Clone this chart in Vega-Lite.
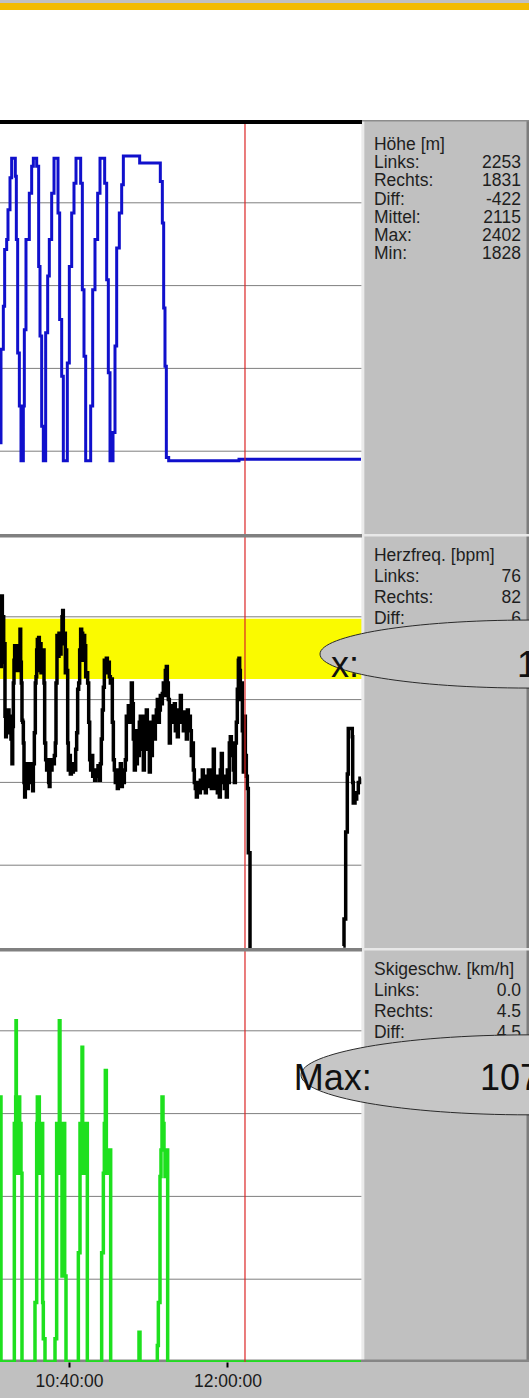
{
  "$schema": "https://vega.github.io/schema/vega-lite/v6.json",
  "background": "#C0C0C0",
  "padding": 0,
  "spacing": 0,
  "bounds": "flush",
  "config": {
    "view": {"stroke": null},
    "concat": {"spacing": 0}
  },
  "data": {"values": [{}]},
  "datasets": {
    "info": [
      {"panel": "h", "zeile": 0, "bez": "Höhe [m]", "wert": ""},
      {"panel": "h", "zeile": 1, "bez": "Links:", "wert": "2253"},
      {"panel": "h", "zeile": 2, "bez": "Rechts:", "wert": "1831"},
      {"panel": "h", "zeile": 3, "bez": "Diff:", "wert": "-422"},
      {"panel": "h", "zeile": 4, "bez": "Mittel:", "wert": "2115"},
      {"panel": "h", "zeile": 5, "bez": "Max:", "wert": "2402"},
      {"panel": "h", "zeile": 6, "bez": "Min:", "wert": "1828"},
      {"panel": "p", "zeile": 0, "bez": "Herzfreq. [bpm]", "wert": ""},
      {"panel": "p", "zeile": 1, "bez": "Links:", "wert": "76"},
      {"panel": "p", "zeile": 2, "bez": "Rechts:", "wert": "82"},
      {"panel": "p", "zeile": 3, "bez": "Diff:", "wert": "6"},
      {"panel": "s", "zeile": 0, "bez": "Skigeschw. [km/h]", "wert": ""},
      {"panel": "s", "zeile": 1, "bez": "Links:", "wert": "0.0"},
      {"panel": "s", "zeile": 2, "bez": "Rechts:", "wert": "4.5"},
      {"panel": "s", "zeile": 3, "bez": "Diff:", "wert": "4.5"}
    ],
    "zeitraster": [{"t": "10:40:00"}, {"t": "12:00:00"}]
  },
  "vconcat": [
    {"width": 529, "height": 7, "view": {"fill": "#F2BB00"}, "mark": {"type": "text", "text": ""}, "encoding": {}},
    {"width": 529, "height": 110, "view": {"fill": "#FFFFFF"}, "mark": {"type": "text", "text": ""}, "encoding": {}},
    {
      "width": 529, "height": 414,
      "view": {"fill": "#FFFFFF"},
      "resolve": {"scale": {"y": "independent"}},
      "layer": [
        {"data": {"values": [{"g": 1846}, {"g": 2002}, {"g": 2158}, {"g": 2314}]},
         "mark": {"type": "rule", "color": "#7F7F7F", "strokeWidth": 1, "clip": true},
         "encoding": {"y": {"field": "g", "type": "quantitative", "scale": {"domain": [1690, 2470], "nice": false, "zero": false}, "axis": null}}},
        {"data": {"name": "zeitraster", "format": {"parse": {"t": "date:'%H:%M:%S'"}}},
         "mark": {"type": "rule", "color": "#7F7F7F", "strokeWidth": 1, "clip": true},
         "encoding": {"x": {"field": "t", "type": "temporal",
                            "scale": {"domain": [{"year": 1900, "month": 1, "date": 1, "hours": 10, "minutes": 5, "seconds": 10}, {"year": 1900, "month": 1, "date": 1, "hours": 14, "minutes": 32, "seconds": 12}], "nice": false},
                            "axis": null}}},
        {
          "data": {"values": [
            {"zeit": "10:05:10", "hoehe": 1862}, {"zeit": "10:05:40", "hoehe": 2038}, {"zeit": "10:06:51", "hoehe": 2119},
            {"zeit": "10:07:31", "hoehe": 2226}, {"zeit": "10:08:32", "hoehe": 2245}, {"zeit": "10:09:12", "hoehe": 2301},
            {"zeit": "10:10:13", "hoehe": 2361}, {"zeit": "10:11:03", "hoehe": 2398}, {"zeit": "10:12:54", "hoehe": 2364},
            {"zeit": "10:13:25", "hoehe": 2245}, {"zeit": "10:14:05", "hoehe": 2031}, {"zeit": "10:14:56", "hoehe": 1931},
            {"zeit": "10:15:46", "hoehe": 1828}, {"zeit": "10:16:57", "hoehe": 1931}, {"zeit": "10:17:27", "hoehe": 2075},
            {"zeit": "10:18:17", "hoehe": 2245}, {"zeit": "10:19:58", "hoehe": 2332}, {"zeit": "10:21:09", "hoehe": 2383},
            {"zeit": "10:22:00", "hoehe": 2398}, {"zeit": "10:23:41", "hoehe": 2383}, {"zeit": "10:24:41", "hoehe": 2194},
            {"zeit": "10:25:22", "hoehe": 2063}, {"zeit": "10:26:12", "hoehe": 1893}, {"zeit": "10:27:02", "hoehe": 1828},
            {"zeit": "10:28:13", "hoehe": 2069}, {"zeit": "10:29:14", "hoehe": 2176}, {"zeit": "10:30:04", "hoehe": 2245},
            {"zeit": "10:31:15", "hoehe": 2332}, {"zeit": "10:32:26", "hoehe": 2398}, {"zeit": "10:34:27", "hoehe": 2295},
            {"zeit": "10:35:17", "hoehe": 2094}, {"zeit": "10:36:18", "hoehe": 1987}, {"zeit": "10:37:08", "hoehe": 1828},
            {"zeit": "10:39:09", "hoehe": 2012}, {"zeit": "10:40:10", "hoehe": 2194}, {"zeit": "10:41:21", "hoehe": 2295},
            {"zeit": "10:42:31", "hoehe": 2351}, {"zeit": "10:43:32", "hoehe": 2398}, {"zeit": "10:45:53", "hoehe": 2351},
            {"zeit": "10:46:44", "hoehe": 2150}, {"zeit": "10:47:34", "hoehe": 2025}, {"zeit": "10:48:25", "hoehe": 1828},
            {"zeit": "10:50:56", "hoehe": 1931}, {"zeit": "10:51:57", "hoehe": 2150}, {"zeit": "10:53:07", "hoehe": 2245},
            {"zeit": "10:54:28", "hoehe": 2332}, {"zeit": "10:55:39", "hoehe": 2398}, {"zeit": "10:58:00", "hoehe": 2351},
            {"zeit": "10:59:01", "hoehe": 2169}, {"zeit": "10:59:51", "hoehe": 1994}, {"zeit": "11:00:42", "hoehe": 1828},
            {"zeit": "11:02:13", "hoehe": 1881}, {"zeit": "11:03:13", "hoehe": 2044}, {"zeit": "11:04:04", "hoehe": 2229},
            {"zeit": "11:05:24", "hoehe": 2295}, {"zeit": "11:06:35", "hoehe": 2348}, {"zeit": "11:07:26", "hoehe": 2402},
            {"zeit": "11:15:40", "hoehe": 2389}, {"zeit": "11:26:06", "hoehe": 2354}, {"zeit": "11:27:07", "hoehe": 2276},
            {"zeit": "11:27:47", "hoehe": 2116}, {"zeit": "11:28:27", "hoehe": 2006}, {"zeit": "11:29:08", "hoehe": 1834},
            {"zeit": "11:30:19", "hoehe": 1828}, {"zeit": "12:05:49", "hoehe": 1831}, {"zeit": "13:07:24", "hoehe": 1831}
          ], "format": {"parse": {"zeit": "date:'%H:%M:%S'"}}},
          "mark": {"type": "line", "color": "#1010CC", "strokeWidth": 3, "interpolate": "step-after", "clip": true},
          "encoding": {
            "x": {"field": "zeit", "type": "temporal", "axis": null},
            "y": {"field": "hoehe", "type": "quantitative", "scale": {"domain": [1690, 2470], "nice": false, "zero": false}, "axis": null}
          }
        },
        {"mark": {"type": "rule", "color": "#DC2424", "strokeWidth": 1.2, "clip": true},
         "encoding": {"x": {"datum": {"year": 1900, "month": 1, "date": 1, "hours": 12, "minutes": 8, "seconds": 50}, "type": "temporal", "axis": null}}},
        {"mark": {"type": "rect", "color": "#C0C0C0"},
         "encoding": {"x": {"datum": {"year": 1900, "month": 1, "date": 1, "hours": 13, "minutes": 7, "seconds": 54}, "type": "temporal", "axis": null},
                      "x2": {"datum": {"year": 1900, "month": 1, "date": 1, "hours": 14, "minutes": 32, "seconds": 12}}}},
        {"mark": {"type": "rule", "color": "#EBEBEB", "strokeWidth": 3, "clip": true},
         "encoding": {"x": {"datum": {"year": 1900, "month": 1, "date": 1, "hours": 13, "minutes": 8, "seconds": 20}, "type": "temporal", "axis": null}}},
        {"mark": {"type": "rule", "color": "#7C7C7C", "strokeWidth": 5, "clip": true},
         "encoding": {"x": {"datum": {"year": 1900, "month": 1, "date": 1, "hours": 14, "minutes": 32, "seconds": 12}, "type": "temporal", "axis": null}}},
        {"mark": {"type": "rule", "color": "#000000", "strokeWidth": 8, "clip": true},
         "encoding": {"y": {"datum": 2470, "type": "quantitative", "scale": {"domain": [1690, 2470]}, "axis": null},
                      "x": {"datum": {"year": 1900, "month": 1, "date": 1, "hours": 10, "minutes": 5, "seconds": 10}, "type": "temporal", "axis": null},
                      "x2": {"datum": {"year": 1900, "month": 1, "date": 1, "hours": 13, "minutes": 7, "seconds": 54}}}},
        {"mark": {"type": "rule", "color": "#8C8C8C", "strokeWidth": 3, "clip": true},
         "encoding": {"y": {"datum": 2470, "type": "quantitative", "scale": {"domain": [1690, 2470]}, "axis": null},
                      "x": {"datum": {"year": 1900, "month": 1, "date": 1, "hours": 13, "minutes": 7, "seconds": 54}, "type": "temporal", "axis": null},
                      "x2": {"datum": {"year": 1900, "month": 1, "date": 1, "hours": 14, "minutes": 32, "seconds": 12}}}},
        {"data": {"name": "info"}, "transform": [{"filter": "datum.panel == 'h'"}],
         "mark": {"type": "text", "align": "left", "baseline": "middle", "font": "Liberation Sans", "fontSize": 17.5, "color": "#1E1E1E"},
         "encoding": {"x": {"datum": {"year": 1900, "month": 1, "date": 1, "hours": 13, "minutes": 13, "seconds": 57}, "type": "temporal", "axis": null},
                      "y": {"field": "zeile", "type": "ordinal", "scale": {"type": "point", "domain": [0, 1, 2, 3, 4, 5, 6], "range": [25, 134], "padding": 0}, "axis": null},
                      "text": {"field": "bez"}}},
        {"data": {"name": "info"}, "transform": [{"filter": "datum.panel == 'h'"}],
         "mark": {"type": "text", "align": "right", "baseline": "middle", "font": "Liberation Sans", "fontSize": 17.5, "color": "#1E1E1E"},
         "encoding": {"x": {"datum": {"year": 1900, "month": 1, "date": 1, "hours": 14, "minutes": 28, "seconds": 10}, "type": "temporal", "axis": null},
                      "y": {"field": "zeile", "type": "ordinal", "scale": {"type": "point", "domain": [0, 1, 2, 3, 4, 5, 6], "range": [25, 134], "padding": 0}, "axis": null},
                      "text": {"field": "wert"}}}
      ]
    },
    {
      "width": 529, "height": 414,
      "view": {"fill": "#FFFFFF"},
      "resolve": {"scale": {"y": "independent"}},
      "layer": [
        {"data": {"values": [{"g": 40}, {"g": 80}, {"g": 120}, {"g": 160}]},
         "mark": {"type": "rule", "color": "#7F7F7F", "strokeWidth": 1, "clip": true},
         "encoding": {"y": {"field": "g", "type": "quantitative", "scale": {"domain": [0, 200], "nice": false}, "axis": null}}},
        {"data": {"name": "zeitraster", "format": {"parse": {"t": "date:'%H:%M:%S'"}}},
         "mark": {"type": "rule", "color": "#7F7F7F", "strokeWidth": 1, "clip": true},
         "encoding": {"x": {"field": "t", "type": "temporal",
                            "scale": {"domain": [{"year": 1900, "month": 1, "date": 1, "hours": 10, "minutes": 5, "seconds": 10}, {"year": 1900, "month": 1, "date": 1, "hours": 14, "minutes": 32, "seconds": 12}], "nice": false},
                            "axis": null}}},
        {"mark": {"type": "rect", "color": "#FAFA00"},
         "encoding": {"y": {"datum": 159, "type": "quantitative", "scale": {"domain": [0, 200]}, "axis": null},
                      "y2": {"datum": 130}}},
        {
          "data": {"values": [
            {"zeit": "10:05:10", "puls": 157}, {"zeit": "10:05:30", "puls": 136}, {"zeit": "10:05:50", "puls": 167}, {"zeit": "10:06:00", "puls": 170},
            {"zeit": "10:06:21", "puls": 152}, {"zeit": "10:06:41", "puls": 160}, {"zeit": "10:07:01", "puls": 138}, {"zeit": "10:07:21", "puls": 147},
            {"zeit": "10:07:41", "puls": 112}, {"zeit": "10:08:02", "puls": 102}, {"zeit": "10:08:22", "puls": 114}, {"zeit": "10:08:42", "puls": 104},
            {"zeit": "10:09:12", "puls": 115}, {"zeit": "10:09:43", "puls": 107}, {"zeit": "10:10:13", "puls": 112}, {"zeit": "10:10:43", "puls": 101},
            {"zeit": "10:11:13", "puls": 89}, {"zeit": "10:11:34", "puls": 107}, {"zeit": "10:11:54", "puls": 128}, {"zeit": "10:12:14", "puls": 139},
            {"zeit": "10:12:34", "puls": 146}, {"zeit": "10:12:54", "puls": 134}, {"zeit": "10:13:15", "puls": 144}, {"zeit": "10:13:35", "puls": 138},
            {"zeit": "10:13:55", "puls": 146}, {"zeit": "10:14:25", "puls": 134}, {"zeit": "10:14:56", "puls": 144}, {"zeit": "10:15:16", "puls": 154},
            {"zeit": "10:15:36", "puls": 138}, {"zeit": "10:15:56", "puls": 128}, {"zeit": "10:16:16", "puls": 110}, {"zeit": "10:16:37", "puls": 109},
            {"zeit": "10:16:57", "puls": 99}, {"zeit": "10:17:17", "puls": 80}, {"zeit": "10:17:37", "puls": 73}, {"zeit": "10:17:57", "puls": 86},
            {"zeit": "10:18:17", "puls": 80}, {"zeit": "10:18:38", "puls": 89}, {"zeit": "10:18:58", "puls": 77}, {"zeit": "10:19:28", "puls": 86},
            {"zeit": "10:19:58", "puls": 80}, {"zeit": "10:20:39", "puls": 89}, {"zeit": "10:21:09", "puls": 85}, {"zeit": "10:21:39", "puls": 76},
            {"zeit": "10:22:00", "puls": 89}, {"zeit": "10:22:30", "puls": 104}, {"zeit": "10:23:00", "puls": 128}, {"zeit": "10:23:20", "puls": 131},
            {"zeit": "10:23:41", "puls": 144}, {"zeit": "10:24:01", "puls": 149}, {"zeit": "10:24:21", "puls": 139}, {"zeit": "10:24:41", "puls": 150},
            {"zeit": "10:25:01", "puls": 134}, {"zeit": "10:25:22", "puls": 147}, {"zeit": "10:25:52", "puls": 133}, {"zeit": "10:26:22", "puls": 144},
            {"zeit": "10:26:42", "puls": 134}, {"zeit": "10:27:02", "puls": 144}, {"zeit": "10:27:23", "puls": 128}, {"zeit": "10:27:43", "puls": 99},
            {"zeit": "10:28:13", "puls": 91}, {"zeit": "10:28:43", "puls": 86}, {"zeit": "10:29:14", "puls": 91}, {"zeit": "10:29:44", "puls": 80},
            {"zeit": "10:30:04", "puls": 78}, {"zeit": "10:30:24", "puls": 89}, {"zeit": "10:30:55", "puls": 86}, {"zeit": "10:31:25", "puls": 91},
            {"zeit": "10:32:05", "puls": 89}, {"zeit": "10:32:36", "puls": 93}, {"zeit": "10:33:06", "puls": 99}, {"zeit": "10:33:26", "puls": 128},
            {"zeit": "10:33:56", "puls": 151}, {"zeit": "10:34:27", "puls": 141}, {"zeit": "10:34:57", "puls": 152}, {"zeit": "10:35:27", "puls": 142},
            {"zeit": "10:35:58", "puls": 152}, {"zeit": "10:36:28", "puls": 160}, {"zeit": "10:36:48", "puls": 163}, {"zeit": "10:37:08", "puls": 147},
            {"zeit": "10:37:39", "puls": 152}, {"zeit": "10:38:09", "puls": 133}, {"zeit": "10:38:29", "puls": 144}, {"zeit": "10:38:49", "puls": 134},
            {"zeit": "10:39:20", "puls": 99}, {"zeit": "10:39:40", "puls": 86}, {"zeit": "10:40:10", "puls": 93}, {"zeit": "10:40:40", "puls": 84},
            {"zeit": "10:41:11", "puls": 89}, {"zeit": "10:41:41", "puls": 85}, {"zeit": "10:42:11", "puls": 89}, {"zeit": "10:42:52", "puls": 86},
            {"zeit": "10:43:22", "puls": 96}, {"zeit": "10:43:52", "puls": 104}, {"zeit": "10:44:22", "puls": 125}, {"zeit": "10:44:53", "puls": 128},
            {"zeit": "10:45:23", "puls": 144}, {"zeit": "10:45:53", "puls": 154}, {"zeit": "10:46:23", "puls": 152}, {"zeit": "10:46:54", "puls": 139},
            {"zeit": "10:47:24", "puls": 151}, {"zeit": "10:47:54", "puls": 146}, {"zeit": "10:48:25", "puls": 131}, {"zeit": "10:48:55", "puls": 133},
            {"zeit": "10:49:25", "puls": 128}, {"zeit": "10:49:56", "puls": 109}, {"zeit": "10:50:26", "puls": 91}, {"zeit": "10:50:56", "puls": 86},
            {"zeit": "10:51:26", "puls": 93}, {"zeit": "10:51:57", "puls": 83}, {"zeit": "10:52:27", "puls": 86}, {"zeit": "10:52:57", "puls": 81},
            {"zeit": "10:53:28", "puls": 86}, {"zeit": "10:53:58", "puls": 83}, {"zeit": "10:54:38", "puls": 88}, {"zeit": "10:55:19", "puls": 81},
            {"zeit": "10:55:49", "puls": 89}, {"zeit": "10:56:19", "puls": 101}, {"zeit": "10:56:49", "puls": 115}, {"zeit": "10:57:20", "puls": 126},
            {"zeit": "10:57:50", "puls": 139}, {"zeit": "10:58:20", "puls": 136}, {"zeit": "10:58:51", "puls": 140}, {"zeit": "10:59:21", "puls": 133},
            {"zeit": "10:59:51", "puls": 138}, {"zeit": "11:00:21", "puls": 131}, {"zeit": "11:00:52", "puls": 128}, {"zeit": "11:01:22", "puls": 130},
            {"zeit": "11:01:52", "puls": 109}, {"zeit": "11:02:23", "puls": 91}, {"zeit": "11:02:53", "puls": 86}, {"zeit": "11:03:23", "puls": 80},
            {"zeit": "11:03:54", "puls": 83}, {"zeit": "11:04:24", "puls": 77}, {"zeit": "11:04:54", "puls": 86}, {"zeit": "11:05:24", "puls": 80},
            {"zeit": "11:05:55", "puls": 89}, {"zeit": "11:06:25", "puls": 78}, {"zeit": "11:06:55", "puls": 85}, {"zeit": "11:07:26", "puls": 80},
            {"zeit": "11:07:56", "puls": 86}, {"zeit": "11:08:26", "puls": 91}, {"zeit": "11:08:56", "puls": 112}, {"zeit": "11:09:27", "puls": 109},
            {"zeit": "11:09:57", "puls": 117}, {"zeit": "11:10:27", "puls": 109}, {"zeit": "11:10:58", "puls": 115}, {"zeit": "11:11:28", "puls": 128},
            {"zeit": "11:11:58", "puls": 118}, {"zeit": "11:12:28", "puls": 101}, {"zeit": "11:12:59", "puls": 86}, {"zeit": "11:13:29", "puls": 105},
            {"zeit": "11:13:59", "puls": 89}, {"zeit": "11:14:30", "puls": 104}, {"zeit": "11:15:00", "puls": 93}, {"zeit": "11:15:30", "puls": 109},
            {"zeit": "11:16:00", "puls": 112}, {"zeit": "11:16:31", "puls": 96}, {"zeit": "11:17:01", "puls": 109}, {"zeit": "11:17:31", "puls": 86},
            {"zeit": "11:18:02", "puls": 112}, {"zeit": "11:18:32", "puls": 99}, {"zeit": "11:19:02", "puls": 115}, {"zeit": "11:19:32", "puls": 96},
            {"zeit": "11:20:03", "puls": 107}, {"zeit": "11:20:33", "puls": 85}, {"zeit": "11:21:03", "puls": 109}, {"zeit": "11:21:34", "puls": 93},
            {"zeit": "11:22:04", "puls": 105}, {"zeit": "11:22:34", "puls": 112}, {"zeit": "11:23:04", "puls": 101}, {"zeit": "11:23:35", "puls": 109},
            {"zeit": "11:24:05", "puls": 115}, {"zeit": "11:24:35", "puls": 120}, {"zeit": "11:25:06", "puls": 109}, {"zeit": "11:25:36", "puls": 115},
            {"zeit": "11:26:06", "puls": 122}, {"zeit": "11:26:36", "puls": 118}, {"zeit": "11:27:07", "puls": 123}, {"zeit": "11:27:37", "puls": 128},
            {"zeit": "11:28:07", "puls": 122}, {"zeit": "11:28:38", "puls": 134}, {"zeit": "11:29:08", "puls": 136}, {"zeit": "11:29:38", "puls": 128},
            {"zeit": "11:30:08", "puls": 120}, {"zeit": "11:30:39", "puls": 99}, {"zeit": "11:31:09", "puls": 115}, {"zeit": "11:31:39", "puls": 109},
            {"zeit": "11:32:10", "puls": 117}, {"zeit": "11:32:40", "puls": 112}, {"zeit": "11:33:10", "puls": 118}, {"zeit": "11:33:40", "puls": 105},
            {"zeit": "11:34:11", "puls": 115}, {"zeit": "11:34:41", "puls": 102}, {"zeit": "11:35:11", "puls": 114}, {"zeit": "11:35:42", "puls": 115},
            {"zeit": "11:36:12", "puls": 122}, {"zeit": "11:36:42", "puls": 109}, {"zeit": "11:37:13", "puls": 112}, {"zeit": "11:37:43", "puls": 105},
            {"zeit": "11:38:13", "puls": 114}, {"zeit": "11:38:43", "puls": 109}, {"zeit": "11:39:14", "puls": 101}, {"zeit": "11:39:44", "puls": 115},
            {"zeit": "11:40:14", "puls": 107}, {"zeit": "11:40:45", "puls": 112}, {"zeit": "11:41:15", "puls": 105}, {"zeit": "11:41:45", "puls": 93},
            {"zeit": "11:42:15", "puls": 99}, {"zeit": "11:42:46", "puls": 86}, {"zeit": "11:43:16", "puls": 80}, {"zeit": "11:43:46", "puls": 77},
            {"zeit": "11:44:17", "puls": 73}, {"zeit": "11:44:47", "puls": 80}, {"zeit": "11:45:17", "puls": 78}, {"zeit": "11:45:47", "puls": 75},
            {"zeit": "11:46:18", "puls": 81}, {"zeit": "11:46:48", "puls": 77}, {"zeit": "11:47:18", "puls": 86}, {"zeit": "11:47:49", "puls": 80},
            {"zeit": "11:48:19", "puls": 83}, {"zeit": "11:48:49", "puls": 75}, {"zeit": "11:49:19", "puls": 81}, {"zeit": "11:49:50", "puls": 80},
            {"zeit": "11:50:20", "puls": 86}, {"zeit": "11:50:50", "puls": 78}, {"zeit": "11:51:21", "puls": 83}, {"zeit": "11:51:51", "puls": 77},
            {"zeit": "11:52:21", "puls": 86}, {"zeit": "11:52:51", "puls": 96}, {"zeit": "11:53:22", "puls": 80}, {"zeit": "11:53:52", "puls": 77},
            {"zeit": "11:54:22", "puls": 83}, {"zeit": "11:54:53", "puls": 75}, {"zeit": "11:55:23", "puls": 80}, {"zeit": "11:55:53", "puls": 73},
            {"zeit": "11:56:23", "puls": 86}, {"zeit": "11:56:54", "puls": 94}, {"zeit": "11:57:24", "puls": 80}, {"zeit": "11:57:54", "puls": 83},
            {"zeit": "11:58:25", "puls": 77}, {"zeit": "11:58:55", "puls": 81}, {"zeit": "11:59:25", "puls": 73}, {"zeit": "11:59:55", "puls": 86},
            {"zeit": "12:00:26", "puls": 80}, {"zeit": "12:00:56", "puls": 99}, {"zeit": "12:01:26", "puls": 102}, {"zeit": "12:01:57", "puls": 93},
            {"zeit": "12:02:27", "puls": 99}, {"zeit": "12:02:57", "puls": 86}, {"zeit": "12:03:28", "puls": 80}, {"zeit": "12:03:58", "puls": 99},
            {"zeit": "12:04:28", "puls": 109}, {"zeit": "12:04:58", "puls": 125}, {"zeit": "12:05:29", "puls": 139}, {"zeit": "12:05:49", "puls": 140},
            {"zeit": "12:06:09", "puls": 134}, {"zeit": "12:06:29", "puls": 120}, {"zeit": "12:06:59", "puls": 128}, {"zeit": "12:07:30", "puls": 105},
            {"zeit": "12:08:00", "puls": 85}, {"zeit": "12:08:30", "puls": 112}, {"zeit": "12:09:01", "puls": 93}, {"zeit": "12:09:31", "puls": 83},
            {"zeit": "12:10:01", "puls": 77}, {"zeit": "12:10:31", "puls": 46}, {"zeit": "12:11:22", "puls": 0}, {"zeit": "12:11:30", "puls": null},
            {"zeit": "12:58:20", "puls": null},
            {"zeit": "12:58:27", "puls": 1}, {"zeit": "12:58:49", "puls": 14}, {"zeit": "12:59:40", "puls": 56}, {"zeit": "13:00:29", "puls": 84},
            {"zeit": "13:00:59", "puls": 106}, {"zeit": "13:02:12", "puls": 106}, {"zeit": "13:03:00", "puls": 102}, {"zeit": "13:03:12", "puls": 80},
            {"zeit": "13:03:30", "puls": 70}, {"zeit": "13:04:22", "puls": 72}, {"zeit": "13:05:13", "puls": 75}, {"zeit": "13:06:02", "puls": 80},
            {"zeit": "13:06:53", "puls": 82}, {"zeit": "13:07:24", "puls": 82}
          ], "format": {"parse": {"zeit": "date:'%H:%M:%S'"}}},
          "mark": {"type": "line", "color": "#000000", "strokeWidth": 3.5, "interpolate": "step-after", "clip": true, "invalid": "break-paths-show-domains"},
          "encoding": {
            "x": {"field": "zeit", "type": "temporal", "axis": null},
            "y": {"field": "puls", "type": "quantitative", "scale": {"domain": [0, 200], "nice": false, "zero": false}, "axis": null}
          }
        },
        {"mark": {"type": "rule", "color": "#DC2424", "strokeWidth": 1.2, "clip": true},
         "encoding": {"x": {"datum": {"year": 1900, "month": 1, "date": 1, "hours": 12, "minutes": 8, "seconds": 50}, "type": "temporal", "axis": null}}},
        {"mark": {"type": "rect", "color": "#C0C0C0"},
         "encoding": {"x": {"datum": {"year": 1900, "month": 1, "date": 1, "hours": 13, "minutes": 7, "seconds": 54}, "type": "temporal", "axis": null},
                      "x2": {"datum": {"year": 1900, "month": 1, "date": 1, "hours": 14, "minutes": 32, "seconds": 12}}}},
        {"mark": {"type": "rule", "color": "#EBEBEB", "strokeWidth": 3, "clip": true},
         "encoding": {"x": {"datum": {"year": 1900, "month": 1, "date": 1, "hours": 13, "minutes": 8, "seconds": 20}, "type": "temporal", "axis": null}}},
        {"mark": {"type": "rule", "color": "#7C7C7C", "strokeWidth": 5, "clip": true},
         "encoding": {"x": {"datum": {"year": 1900, "month": 1, "date": 1, "hours": 14, "minutes": 32, "seconds": 12}, "type": "temporal", "axis": null}}},
        {"mark": {"type": "rule", "color": "#808080", "strokeWidth": 7, "clip": true},
         "encoding": {"y": {"datum": 200, "type": "quantitative", "scale": {"domain": [0, 200]}, "axis": null},
                      "x": {"datum": {"year": 1900, "month": 1, "date": 1, "hours": 10, "minutes": 5, "seconds": 10}, "type": "temporal", "axis": null},
                      "x2": {"datum": {"year": 1900, "month": 1, "date": 1, "hours": 13, "minutes": 7, "seconds": 54}}}},
        {"mark": {"type": "rule", "color": "#E8E8E8", "strokeWidth": 5, "clip": true},
         "encoding": {"y": {"datum": 200, "type": "quantitative", "scale": {"domain": [0, 200]}, "axis": null},
                      "x": {"datum": {"year": 1900, "month": 1, "date": 1, "hours": 13, "minutes": 7, "seconds": 54}, "type": "temporal", "axis": null},
                      "x2": {"datum": {"year": 1900, "month": 1, "date": 1, "hours": 14, "minutes": 32, "seconds": 12}}}},
        {"data": {"name": "info"}, "transform": [{"filter": "datum.panel == 'p'"}],
         "mark": {"type": "text", "align": "left", "baseline": "middle", "font": "Liberation Sans", "fontSize": 17.5, "color": "#1E1E1E"},
         "encoding": {"x": {"datum": {"year": 1900, "month": 1, "date": 1, "hours": 13, "minutes": 13, "seconds": 57}, "type": "temporal", "axis": null},
                      "y": {"field": "zeile", "type": "ordinal", "scale": {"type": "point", "domain": [0, 1, 2, 3, 4, 5, 6], "range": [22, 148], "padding": 0}, "axis": null},
                      "text": {"field": "bez"}}},
        {"data": {"name": "info"}, "transform": [{"filter": "datum.panel == 'p'"}],
         "mark": {"type": "text", "align": "right", "baseline": "middle", "font": "Liberation Sans", "fontSize": 17.5, "color": "#1E1E1E"},
         "encoding": {"x": {"datum": {"year": 1900, "month": 1, "date": 1, "hours": 14, "minutes": 28, "seconds": 10}, "type": "temporal", "axis": null},
                      "y": {"field": "zeile", "type": "ordinal", "scale": {"type": "point", "domain": [0, 1, 2, 3, 4, 5, 6], "range": [22, 148], "padding": 0}, "axis": null},
                      "text": {"field": "wert"}}},
        {"mark": {"type": "point", "shape": "M-1,0A1,0.1627,0,1,1,1,0A1,0.1627,0,1,1,-1,0Z", "size": 174724, "filled": true, "fill": "#C4C4C4", "stroke": "#2A2A2A", "strokeWidth": 1, "opacity": 1, "clip": true},
         "encoding": {"x": {"datum": {"year": 1900, "month": 1, "date": 1, "hours": 14, "minutes": 32, "seconds": 12}, "type": "temporal", "axis": null},
                      "y": {"datum": 142, "type": "quantitative", "scale": {"domain": [0, 200]}, "axis": null}}},
        {"mark": {"type": "text", "text": "x:", "align": "left", "baseline": "alphabetic", "font": "Liberation Sans", "fontSize": 36, "color": "#111111", "clip": true},
         "encoding": {"x": {"datum": {"year": 1900, "month": 1, "date": 1, "hours": 12, "minutes": 52, "seconds": 15}, "type": "temporal", "axis": null},
                      "y": {"datum": 131, "type": "quantitative", "scale": {"domain": [0, 200]}, "axis": null}}},
        {"mark": {"type": "text", "text": "1", "align": "left", "baseline": "alphabetic", "font": "Liberation Sans", "fontSize": 36, "color": "#111111", "clip": true},
         "encoding": {"x": {"datum": {"year": 1900, "month": 1, "date": 1, "hours": 14, "minutes": 26, "seconds": 8}, "type": "temporal", "axis": null},
                      "y": {"datum": 131, "type": "quantitative", "scale": {"domain": [0, 200]}, "axis": null}}}
      ]
    },
    {
      "width": 529, "height": 414,
      "view": {"fill": "#FFFFFF"},
      "resolve": {"scale": {"y": "independent"}},
      "layer": [
        {"data": {"values": [{"g": 25}, {"g": 50}, {"g": 75}, {"g": 100}]},
         "mark": {"type": "rule", "color": "#7F7F7F", "strokeWidth": 1, "clip": true},
         "encoding": {"y": {"field": "g", "type": "quantitative", "scale": {"domain": [0, 125], "nice": false}, "axis": null}}},
        {"data": {"name": "zeitraster", "format": {"parse": {"t": "date:'%H:%M:%S'"}}},
         "mark": {"type": "rule", "color": "#7F7F7F", "strokeWidth": 1, "clip": true},
         "encoding": {"x": {"field": "t", "type": "temporal",
                            "scale": {"domain": [{"year": 1900, "month": 1, "date": 1, "hours": 10, "minutes": 5, "seconds": 10}, {"year": 1900, "month": 1, "date": 1, "hours": 14, "minutes": 32, "seconds": 12}], "nice": false},
                            "axis": null}}},
        {"mark": {"type": "rect", "color": "#C0C0C0"},
         "encoding": {"x": {"datum": {"year": 1900, "month": 1, "date": 1, "hours": 13, "minutes": 7, "seconds": 54}, "type": "temporal", "axis": null},
                      "x2": {"datum": {"year": 1900, "month": 1, "date": 1, "hours": 14, "minutes": 32, "seconds": 12}}}},
        {"mark": {"type": "rule", "color": "#EBEBEB", "strokeWidth": 3, "clip": true},
         "encoding": {"x": {"datum": {"year": 1900, "month": 1, "date": 1, "hours": 13, "minutes": 8, "seconds": 20}, "type": "temporal", "axis": null}}},
        {"mark": {"type": "rule", "color": "#7C7C7C", "strokeWidth": 5, "clip": true},
         "encoding": {"x": {"datum": {"year": 1900, "month": 1, "date": 1, "hours": 14, "minutes": 32, "seconds": 12}, "type": "temporal", "axis": null}}},
        {"mark": {"type": "rule", "color": "#858585", "strokeWidth": 5, "clip": true},
         "encoding": {"y": {"datum": 0, "type": "quantitative", "scale": {"domain": [0, 125]}, "axis": null}}},
        {
          "data": {"values": [
            {"zeit": "10:05:10", "v": 80}, {"zeit": "10:05:30", "v": 80}, {"zeit": "10:05:40", "v": 0}, {"zeit": "10:12:14", "v": 0},
            {"zeit": "10:12:24", "v": 72}, {"zeit": "10:12:44", "v": 57}, {"zeit": "10:13:05", "v": 80}, {"zeit": "10:13:15", "v": 103},
            {"zeit": "10:13:25", "v": 72}, {"zeit": "10:13:45", "v": 57}, {"zeit": "10:14:05", "v": 80}, {"zeit": "10:14:25", "v": 57},
            {"zeit": "10:14:45", "v": 80}, {"zeit": "10:15:06", "v": 57}, {"zeit": "10:15:26", "v": 72}, {"zeit": "10:15:46", "v": 57},
            {"zeit": "10:16:06", "v": 57}, {"zeit": "10:16:16", "v": 0}, {"zeit": "10:22:40", "v": 0}, {"zeit": "10:22:50", "v": 18},
            {"zeit": "10:23:20", "v": 18}, {"zeit": "10:23:41", "v": 72}, {"zeit": "10:24:01", "v": 80}, {"zeit": "10:24:21", "v": 57},
            {"zeit": "10:24:41", "v": 80}, {"zeit": "10:25:01", "v": 72}, {"zeit": "10:25:22", "v": 57}, {"zeit": "10:25:42", "v": 72},
            {"zeit": "10:26:02", "v": 57}, {"zeit": "10:26:22", "v": 72}, {"zeit": "10:26:42", "v": 18}, {"zeit": "10:27:02", "v": 7},
            {"zeit": "10:27:43", "v": 7}, {"zeit": "10:27:53", "v": 0}, {"zeit": "10:32:36", "v": 0}, {"zeit": "10:32:56", "v": 7},
            {"zeit": "10:33:26", "v": 7}, {"zeit": "10:33:46", "v": 72}, {"zeit": "10:34:07", "v": 57}, {"zeit": "10:34:27", "v": 72},
            {"zeit": "10:34:47", "v": 57}, {"zeit": "10:35:07", "v": 103}, {"zeit": "10:35:27", "v": 72}, {"zeit": "10:35:47", "v": 57},
            {"zeit": "10:36:08", "v": 72}, {"zeit": "10:36:28", "v": 26}, {"zeit": "10:37:08", "v": 26}, {"zeit": "10:37:28", "v": 72},
            {"zeit": "10:37:49", "v": 26}, {"zeit": "10:38:09", "v": 26}, {"zeit": "10:38:29", "v": 0}, {"zeit": "10:44:22", "v": 0},
            {"zeit": "10:44:43", "v": 33}, {"zeit": "10:45:13", "v": 33}, {"zeit": "10:45:33", "v": 72}, {"zeit": "10:45:53", "v": 57},
            {"zeit": "10:46:13", "v": 72}, {"zeit": "10:46:34", "v": 95}, {"zeit": "10:46:54", "v": 72}, {"zeit": "10:47:14", "v": 57},
            {"zeit": "10:47:34", "v": 72}, {"zeit": "10:47:54", "v": 57}, {"zeit": "10:48:15", "v": 72}, {"zeit": "10:48:35", "v": 57},
            {"zeit": "10:48:55", "v": 72}, {"zeit": "10:49:15", "v": 0}, {"zeit": "10:56:09", "v": 0}, {"zeit": "10:56:29", "v": 33},
            {"zeit": "10:57:00", "v": 33}, {"zeit": "10:57:20", "v": 57}, {"zeit": "10:57:50", "v": 72}, {"zeit": "10:58:20", "v": 88},
            {"zeit": "10:58:51", "v": 64}, {"zeit": "10:59:21", "v": 57}, {"zeit": "10:59:51", "v": 64}, {"zeit": "11:00:21", "v": 64},
            {"zeit": "11:00:42", "v": 64}, {"zeit": "11:01:02", "v": 0}, {"zeit": "11:15:10", "v": 0}, {"zeit": "11:15:20", "v": 9},
            {"zeit": "11:15:40", "v": 9}, {"zeit": "11:15:50", "v": 0}, {"zeit": "11:24:15", "v": 0}, {"zeit": "11:24:35", "v": 5},
            {"zeit": "11:25:06", "v": 18}, {"zeit": "11:25:36", "v": 18}, {"zeit": "11:25:56", "v": 56}, {"zeit": "11:26:26", "v": 64},
            {"zeit": "11:26:57", "v": 80}, {"zeit": "11:27:27", "v": 72}, {"zeit": "11:27:57", "v": 64}, {"zeit": "11:28:28", "v": 56},
            {"zeit": "11:28:58", "v": 64}, {"zeit": "11:29:28", "v": 64}, {"zeit": "11:29:48", "v": 0}, {"zeit": "13:07:24", "v": 0}
          ], "format": {"parse": {"zeit": "date:'%H:%M:%S'"}}},
          "mark": {"type": "line", "color": "#1EE01E", "strokeWidth": 3.5, "interpolate": "step-after", "clip": true},
          "encoding": {
            "x": {"field": "zeit", "type": "temporal", "axis": null},
            "y": {"field": "v", "type": "quantitative", "scale": {"domain": [0, 125], "nice": false, "zero": false}, "axis": null}
          }
        },
        {"mark": {"type": "rule", "color": "#DC2424", "strokeWidth": 1.2, "clip": true},
         "encoding": {"x": {"datum": {"year": 1900, "month": 1, "date": 1, "hours": 12, "minutes": 8, "seconds": 50}, "type": "temporal", "axis": null}}},
        {"mark": {"type": "rule", "color": "#808080", "strokeWidth": 7, "clip": true},
         "encoding": {"y": {"datum": 125, "type": "quantitative", "scale": {"domain": [0, 125]}, "axis": null},
                      "x": {"datum": {"year": 1900, "month": 1, "date": 1, "hours": 10, "minutes": 5, "seconds": 10}, "type": "temporal", "axis": null},
                      "x2": {"datum": {"year": 1900, "month": 1, "date": 1, "hours": 13, "minutes": 7, "seconds": 54}}}},
        {"mark": {"type": "rule", "color": "#E8E8E8", "strokeWidth": 5, "clip": true},
         "encoding": {"y": {"datum": 125, "type": "quantitative", "scale": {"domain": [0, 125]}, "axis": null},
                      "x": {"datum": {"year": 1900, "month": 1, "date": 1, "hours": 13, "minutes": 7, "seconds": 54}, "type": "temporal", "axis": null},
                      "x2": {"datum": {"year": 1900, "month": 1, "date": 1, "hours": 14, "minutes": 32, "seconds": 12}}}},
        {"data": {"name": "info"}, "transform": [{"filter": "datum.panel == 's'"}],
         "mark": {"type": "text", "align": "left", "baseline": "middle", "font": "Liberation Sans", "fontSize": 17.5, "color": "#1E1E1E"},
         "encoding": {"x": {"datum": {"year": 1900, "month": 1, "date": 1, "hours": 13, "minutes": 13, "seconds": 57}, "type": "temporal", "axis": null},
                      "y": {"field": "zeile", "type": "ordinal", "scale": {"type": "point", "domain": [0, 1, 2, 3, 4, 5, 6], "range": [22, 148], "padding": 0}, "axis": null},
                      "text": {"field": "bez"}}},
        {"data": {"name": "info"}, "transform": [{"filter": "datum.panel == 's'"}],
         "mark": {"type": "text", "align": "right", "baseline": "middle", "font": "Liberation Sans", "fontSize": 17.5, "color": "#1E1E1E"},
         "encoding": {"x": {"datum": {"year": 1900, "month": 1, "date": 1, "hours": 14, "minutes": 28, "seconds": 10}, "type": "temporal", "axis": null},
                      "y": {"field": "zeile", "type": "ordinal", "scale": {"type": "point", "domain": [0, 1, 2, 3, 4, 5, 6], "range": [22, 148], "padding": 0}, "axis": null},
                      "text": {"field": "wert"}}},
        {"mark": {"type": "point", "shape": "M-1,0A1,0.1754,0,1,1,1,0A1,0.1754,0,1,1,-1,0Z", "size": 207936, "filled": true, "fill": "#C6C6C6", "stroke": "#2A2A2A", "strokeWidth": 1, "opacity": 1, "clip": true},
         "encoding": {"x": {"datum": {"year": 1900, "month": 1, "date": 1, "hours": 14, "minutes": 32, "seconds": 12}, "type": "temporal", "axis": null},
                      "y": {"datum": 86.7, "type": "quantitative", "scale": {"domain": [0, 125]}, "axis": null}}},
        {"mark": {"type": "text", "text": "Max:", "align": "right", "baseline": "alphabetic", "font": "Liberation Sans", "fontSize": 36, "color": "#111111", "clip": true},
         "encoding": {"x": {"datum": {"year": 1900, "month": 1, "date": 1, "hours": 13, "minutes": 12, "seconds": 48}, "type": "temporal", "axis": null},
                      "y": {"datum": 82.1, "type": "quantitative", "scale": {"domain": [0, 125]}, "axis": null}}},
        {"mark": {"type": "text", "text": "107", "align": "left", "baseline": "alphabetic", "font": "Liberation Sans", "fontSize": 36, "color": "#111111", "clip": true},
         "encoding": {"x": {"datum": {"year": 1900, "month": 1, "date": 1, "hours": 14, "minutes": 7, "seconds": 28}, "type": "temporal", "axis": null},
                      "y": {"datum": 82.1, "type": "quantitative", "scale": {"domain": [0, 125]}, "axis": null}}}
      ]
    },
    {
      "width": 529, "height": 39,
      "data": {"name": "zeitraster", "format": {"parse": {"t": "date:'%H:%M:%S'"}}},
      "mark": {"type": "text", "text": ""},
      "encoding": {
        "x": {"field": "t", "type": "temporal",
              "scale": {"domain": [{"year": 1900, "month": 1, "date": 1, "hours": 10, "minutes": 5, "seconds": 10}, {"year": 1900, "month": 1, "date": 1, "hours": 14, "minutes": 32, "seconds": 12}], "nice": false},
              "axis": {"values": [{"year": 1900, "month": 1, "date": 1, "hours": 10, "minutes": 40}, {"year": 1900, "month": 1, "date": 1, "hours": 12, "minutes": 0}],
                       "labelExpr": "timeFormat(datum.value, '%H:%M:%S')", "orient": "bottom", "offset": -39,
                       "grid": false, "domain": false, "ticks": true, "tickColor": "#000000", "tickWidth": 2, "tickSize": 5,
                       "labels": true, "labelFont": "Liberation Sans", "labelFontSize": 17.5, "labelColor": "#1A1A1A", "labelPadding": 5, "title": null}}
      }
    }
  ]
}
